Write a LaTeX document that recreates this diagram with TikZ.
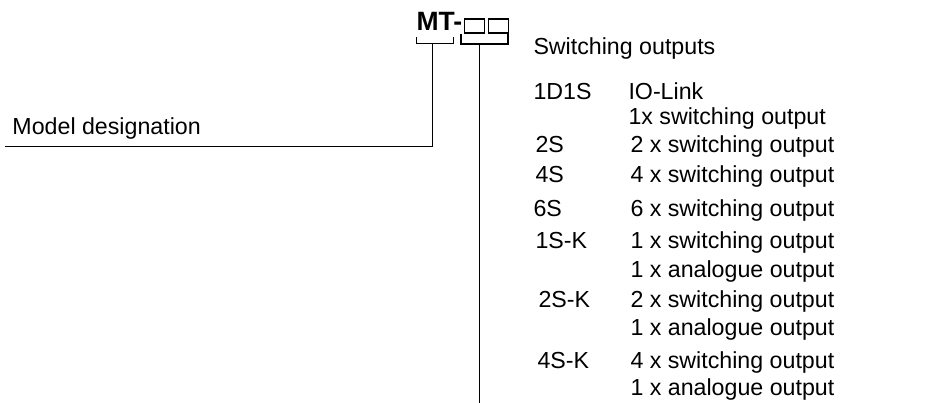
\documentclass[tikz,border=0pt]{standalone}
\usepackage{fontspec}
\setmainfont{Liberation Sans}
\usetikzlibrary{positioning}

\begin{document}
\begin{tikzpicture}[
    x=1pt,y=-1pt,line width=1pt,
    txt/.style={anchor=base west, inner sep=0pt, font=\fontsize{23.2}{28}\selectfont},
    codebox/.style={txt},
    slot/.style={draw, rectangle, minimum width=20pt, minimum height=14pt, inner sep=0pt, line width=1.2pt}
]
    \useasboundingbox (0,0) rectangle (947,403);

    % --- type code MT-xx ---
    \node[anchor=base west, inner sep=0pt, font=\bfseries\fontsize{26.5}{30}\selectfont] (mt) at (416,31) {MT-};
    \node[slot, anchor=north west] (s1) at (464,18.5) {};
    \node[slot, right=2.5pt of s1] (s2) {};

    % brackets under the code
    \draw (416,37) |- (453,44) -- (453,37);
    \draw[line width=1.4pt] (461,34) |- (508,44) -- (508,34);
    \coordinate (lb) at (432,44);
    \coordinate (rb) at (479,44);

    % --- model designation ---
    \node[txt] (md) at (12,135) {Model designation};
    \coordinate (mdl) at (5,147);
    \draw (lb) |- (mdl);

    % --- switching outputs ---
    \node[txt] (so) at (533,55) {Switching outputs};
    \coordinate (bot) at (479,403);
    \draw (rb) -- (bot);

    \node[codebox] (c1) at (533,100) {1D1S};
    \node[txt] (t1) at (628,100) {IO-Link};
    \node[txt] (t1b) at (628,125) {1x switching output};
    \node[codebox] (c2) at (535,153) {2S};
    \node[txt] (t2) at (630,153) {2 x switching output};
    \node[codebox] (c3) at (535,183) {4S};
    \node[txt] (t3) at (630,183) {4 x switching output};
    \node[codebox] (c4) at (533,217) {6S};
    \node[txt] (t4) at (630,217) {6 x switching output};
    \node[codebox] (c5) at (535,248) {1S-K};
    \node[txt] (t5) at (630,248) {1 x switching output};
    \node[txt] (t5b) at (630,277) {1 x analogue output};
    \node[codebox] (c6) at (538,307) {2S-K};
    \node[txt] (t6) at (630,307) {2 x switching output};
    \node[txt] (t6b) at (630,335) {1 x analogue output};
    \node[codebox] (c7) at (537,368) {4S-K};
    \node[txt] (t7) at (630,368) {4 x switching output};
    \node[txt] (t7b) at (630,395) {1 x analogue output};

\end{tikzpicture}
\end{document}
